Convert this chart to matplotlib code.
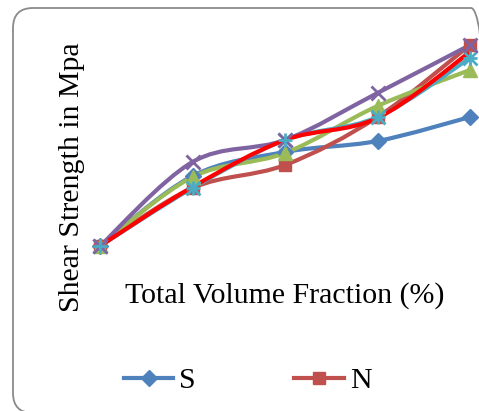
import matplotlib
matplotlib.use("Agg")
import matplotlib.pyplot as plt
from matplotlib.lines import Line2D
from matplotlib.patches import FancyBboxPatch, PathPatch
from matplotlib.path import Path

plt.rcParams["font.family"] = ["Liberation Serif", "DejaVu Serif"]

# data (arbitrary units, no axis ticks in the original)
fractions = [0, 1, 2, 3, 4]
s_vals = [0, 70, 94, 105, 129]
n_vals = [0, 58, 81, 129, 201]
g_vals = [0, 69, 93, 140, 176]
c_vals = [0, 58, 106, 129, 188]
p_vals = [0, 84, 106, 153, 201]
r_vals = [0, 59, 106, 128, 194]

W, H = 479, 411
fig = plt.figure(figsize=(W / 100, H / 100), dpi=100)

# background axes in pixel units, only for the rounded chart border
bg = fig.add_axes([0, 0, 1, 1])
bg.set_xlim(0, W)
bg.set_ylim(0, H)
bg.axis("off")
bg.add_patch(FancyBboxPatch((13, H - 413), 478, 405,
                            boxstyle="round,pad=0,rounding_size=20",
                            fill=False, edgecolor="#8a8a8a", linewidth=1.3,
                            clip_on=False))

# axes placed so that x=0..4 -> px 100..470 and y=0..201 -> px 246..45
ax = fig.add_axes([100 / W, 1 - 246 / H, 370 / W, 201 / H])
ax.set_xlim(0, 4)
ax.set_ylim(0, 201)
ax.axis("off")


def smooth(ax, xs, ys, color, lw):
    # Excel style smoothed line: cubic bezier segments (Catmull-Rom tangents)
    pts = list(zip(xs, ys))
    verts = [pts[0]]
    codes = [Path.MOVETO]
    t = 1 / 6
    for i in range(len(pts) - 1):
        p0 = pts[i - 1] if i > 0 else pts[i]
        p1, p2 = pts[i], pts[i + 1]
        p3 = pts[i + 2] if i + 2 < len(pts) else pts[i + 1]
        c1 = (p1[0] + (p2[0] - p0[0]) * t, p1[1] + (p2[1] - p0[1]) * t)
        c2 = (p2[0] - (p3[0] - p1[0]) * t, p2[1] - (p3[1] - p1[1]) * t)
        verts += [c1, c2, p2]
        codes += [Path.CURVE4] * 3
    ax.add_patch(PathPatch(Path(verts, codes), facecolor="none", edgecolor=color,
                           linewidth=lw, clip_on=False, capstyle="round",
                           joinstyle="round"))


series = [
    (s_vals, "#4F81BD", "D", 8),
    (n_vals, "#C0504D", "s", 9),
    (g_vals, "#9BBB59", "^", 10),
    (c_vals, "#4BACC6", "x", 10),
    (p_vals, "#8064A2", "x", 10),
]
for vals, col, mk, ms in series:
    smooth(ax, fractions, vals, col, 3)
for vals, col, mk, ms in series:
    ax.plot(fractions, vals, linestyle="none", marker=mk, color=col, markersize=ms,
            markeredgewidth=2 if mk == "x" else 1, clip_on=False, zorder=3)
ax.plot(fractions, c_vals, linestyle="none", marker="+", color="#4BACC6",
        markersize=10, markeredgewidth=2, clip_on=False, zorder=3)
smooth(ax, fractions, r_vals, "#FF0000", 3)

fig.text(285 / W, 1 - 296 / H, "Total Volume Fraction (%)", ha="center",
         va="center", fontsize=21.5)
fig.text(72 / W, 1 - 177 / H, "Shear Strength in Mpa", ha="center",
         va="center", rotation=90, fontsize=21.5)

handles = [
    Line2D([], [], color="#4F81BD", lw=3, marker="D", markersize=8, label="S"),
    Line2D([], [], color="#C0504D", lw=3, marker="s", markersize=9, label="N"),
]
fig.legend(handles=handles, loc="center left", bbox_to_anchor=(124 / W, 1 - 381 / H),
           ncol=2, frameon=False, fontsize=21.5, handlelength=1.65,
           handletextpad=0.2, columnspacing=3.3, borderpad=0, borderaxespad=0)

fig.savefig("out.png", dpi=100)
